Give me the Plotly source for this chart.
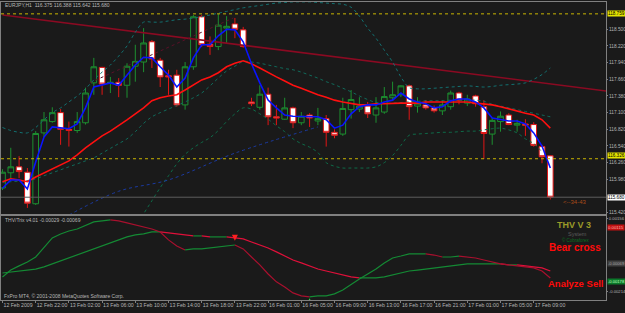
import plotly.graph_objects as go

# ---------------- data ----------------
tick_idx = [0, 4, 8, 12, 16, 20, 24, 28, 32, 36, 40, 44, 48, 52, 56, 60, 64]
tick_text = ["12 Feb 2009", "12 Feb 22:00", "13 Feb 02:00", "13 Feb 06:00", "13 Feb 10:00",
             "13 Feb 14:00", "13 Feb 18:00", "13 Feb 22:00", "16 Feb 01:00", "16 Feb 05:00",
             "16 Feb 09:00", "16 Feb 13:00", "16 Feb 17:00", "16 Feb 21:00", "17 Feb 01:00",
             "17 Feb 05:00", "17 Feb 09:00"]

opens = [115.835, 116.09, 116.19, 116.10, 115.57, 116.76, 116.95, 117.10, 116.82, 116.80,
         116.93, 117.60, 117.86, 117.59, 117.61, 117.56, 117.88, 117.95, 118.29, 117.98,
         117.72, 117.73, 117.23, 117.87, 118.71, 118.25, 118.21, 118.52, 118.59, 118.49,
         117.28, 117.19, 117.41, 117.03, 116.99, 117.18, 116.93, 117.06, 116.96, 117.00,
         116.77, 116.74, 117.15, 117.16, 117.21, 117.06, 117.11, 117.35, 117.40, 117.55,
         117.21, 117.23, 117.18, 117.13, 117.20, 117.43, 117.26, 117.38, 117.20, 116.74,
         116.95, 117.06, 116.89, 116.91, 116.90, 116.53, 116.375]
highs = [116.15, 116.51, 116.37, 116.17, 116.79, 117.11, 117.19, 117.16, 116.95, 117.11,
         117.52, 118.02, 117.87, 117.70, 117.68, 117.93, 118.24, 118.52, 118.32, 118.02,
         117.82, 117.82, 117.95, 118.74, 118.74, 118.38, 118.759, 118.72, 118.69, 118.54,
         117.35, 117.56, 117.52, 117.23, 117.35, 117.20, 117.11, 117.09, 117.18, 117.06,
         116.82, 117.35, 117.48, 117.36, 117.28, 117.36, 117.53, 117.62, 117.56, 117.57,
         117.36, 117.31, 117.22, 117.31, 117.47, 117.45, 117.40, 117.40, 117.31, 117.01,
         117.12, 117.09, 116.98, 116.99, 116.94, 116.56, 116.388]
lows = [115.80, 115.99, 116.00, 115.50, 115.55, 116.69, 116.93, 116.56, 116.53, 116.76,
        116.90, 117.40, 117.40, 117.43, 117.36, 117.35, 117.62, 117.78, 117.85, 117.53,
        117.40, 117.20, 117.15, 117.82, 118.20, 118.07, 118.15, 118.27, 118.35, 118.19,
        117.21, 117.15, 116.89, 116.89, 116.98, 116.84, 116.89, 116.86, 116.89, 116.53,
        116.67, 116.71, 117.00, 117.11, 117.01, 116.93, 117.08, 117.30, 117.36, 116.98,
        117.10, 117.15, 117.10, 117.06, 117.15, 117.24, 117.21, 117.20, 116.32, 116.56,
        116.78, 116.89, 116.78, 116.71, 116.53, 116.25, 115.642]
closes = [116.10, 116.19, 116.11, 115.58, 116.75, 116.98, 117.10, 116.82, 116.80, 116.95,
          117.43, 117.87, 117.58, 117.61, 117.56, 117.88, 117.96, 118.27, 118.00, 117.70,
          117.70, 117.23, 117.87, 118.71, 118.24, 118.21, 118.57, 118.55, 118.50, 118.21,
          117.25, 117.41, 117.03, 117.01, 117.18, 116.93, 117.04, 117.01, 117.00, 116.77,
          116.72, 117.17, 117.32, 117.21, 117.08, 117.18, 117.37, 117.40, 117.55, 117.20,
          117.26, 117.18, 117.13, 117.23, 117.43, 117.31, 117.33, 117.25, 116.75, 116.97,
          117.04, 116.90, 116.92, 116.89, 116.55, 116.36, 115.680]

ma_fast = [115.83, 115.97, 115.97, 115.82, 116.27, 116.69, 116.86, 116.84, 116.83, 116.91,
           117.18, 117.53, 117.56, 117.60, 117.56, 117.73, 117.90, 118.03, 118.02, 117.87,
           117.73, 117.53, 117.68, 118.02, 118.24, 118.24, 118.39, 118.50, 118.49, 118.29,
           117.92, 117.60, 117.31, 117.18, 117.06, 117.04, 117.04, 117.03, 117.03, 116.98,
           116.84, 116.89, 117.08, 117.20, 117.23, 117.23, 117.28, 117.31, 117.43, 117.33,
           117.28, 117.25, 117.18, 117.20, 117.30, 117.33, 117.33, 117.28, 117.18, 117.01,
           116.98, 116.96, 116.96, 116.91, 116.76, 116.54, 116.17]
ma_slow = [115.94, 115.99, 115.97, 115.94, 116.02, 116.09, 116.15, 116.22, 116.29, 116.39,
           116.51, 116.61, 116.71, 116.79, 116.88, 116.98, 117.08, 117.18, 117.30, 117.35,
           117.38, 117.40, 117.48, 117.56, 117.65, 117.70, 117.77, 117.87, 117.93, 117.97,
           117.92, 117.85, 117.77, 117.70, 117.63, 117.56, 117.51, 117.45, 117.40, 117.36,
           117.31, 117.28, 117.25, 117.23, 117.23, 117.25, 117.25, 117.26, 117.26, 117.26,
           117.26, 117.28, 117.28, 117.28, 117.28, 117.28, 117.28, 117.26, 117.25, 117.23,
           117.20, 117.16, 117.13, 117.09, 117.06, 116.98, 116.84]
band_upper = [116.85, 116.80, 116.77, 116.76, 116.85, 116.98, 117.10, 117.18, 117.28, 117.38,
              117.50, 117.65, 117.78, 117.90, 118.05, 118.22, 118.45, 118.62, 118.62, 118.62,
              118.64, 118.66, 118.67, 118.69, 118.71, 118.74, 118.77, 118.80, 118.83, 118.86,
              118.88, 118.90, 118.92, 118.94, 118.95, 118.96, 118.96, 118.96, 118.95, 118.94,
              118.93, 118.92, 118.87, 118.72, 118.52, 118.35, 118.15, 117.95, 117.70, 117.52,
              117.50, 117.50, 117.51, 117.52, 117.53, 117.54, 117.55, 117.54, 117.53, 117.54,
              117.56, 117.57, 117.58, 117.60, 117.66, 117.74, 117.85]
band_inner = [115.93, 115.94, 115.95, 115.96, 115.99, 116.04, 116.09, 116.14, 116.19, 116.24,
              116.29, 116.34, 116.42, 116.50, 116.58, 116.66, 116.78, 116.92, 117.03, 117.10,
              117.16, 117.22, 117.28, 117.35, 117.43, 117.55, 117.68, 117.80, 117.88, 117.96,
              117.95, 117.93, 117.90, 117.87, 117.84, 117.82, 117.78, 117.73, 117.68, 117.62,
              117.57, 117.51, 117.45, 117.38, 117.32, 117.27, 117.26, 117.26, 117.27, 117.28,
              117.29, 117.30, 117.30, 117.30, 117.31, 117.31, 117.31, 117.31, 117.29, 117.24,
              117.21, 117.18, 117.15, 117.12, 117.09, 117.06, 117.03]
band_lower = [None] * 15 + [
              114.90, 115.15, 115.40, 115.62, 115.84,
              116.04, 116.24, 116.40, 116.51, 116.60, 116.68, 116.80, 116.95, 117.08, 117.18,
              117.16, 117.08, 116.99, 116.88, 116.78, 116.66, 116.58, 116.52, 116.43, 116.26,
              116.20, 116.17, 116.17, 116.17, 116.17, 116.19, 116.26, 116.38, 116.55, 116.72,
              116.74, 116.75, 116.76, 116.77, 116.77, 116.78, 116.79, 116.79, 116.81, 116.83,
              116.84, 116.81, 116.76, 116.66, 116.58, 116.44, None]
slow_dot_idx = [8, 14, 20, 28, 38]
slow_dot_val = [115.38, 115.78, 115.97, 116.42, 116.86]
trend_idx = [0, 73]
trend_val = [118.74, 117.46]
trend2_idx = [10.5, 27.8]
trend2_val = [117.60, 118.69]
high_level = 118.759
pivot_level = 116.326
last_price = 115.680
price_ticks = [115.420, 115.980, 116.260, 116.540, 116.820, 117.100, 117.380,
               117.660, 117.940, 118.220, 118.500]

trix_fast = [-0.00138, -0.00103, -0.00082, -0.00062, -0.00037, 0.00009, 0.00060, 0.00080, 0.00095, 0.00105,
             0.00121, 0.00141, 0.00146, 0.00151, 0.00146, 0.00136, 0.00126, 0.00115, 0.00105, 0.00090,
             0.00050, 0.00019, -0.00001, 0.00004, 0.00004, 0.00009, 0.00014, 0.00019, 0.00024, 0.00004,
             -0.00037, -0.00077, -0.00123, -0.00163, -0.00189, -0.00219, -0.00234, -0.00239, -0.00234, -0.00234,
             -0.00224, -0.00204, -0.00174, -0.00148, -0.00123, -0.00098, -0.00067, -0.00042, -0.00032, -0.00021,
             -0.00021, -0.00021, -0.00027, -0.00037, -0.00037, -0.00032, -0.00037, -0.00042, -0.00052, -0.00062,
             -0.00072, -0.00077, -0.00082, -0.00087, -0.00092, -0.00108, -0.00143]
trix_slow = [-0.00118, -0.00113, -0.00108, -0.00103, -0.00098, -0.00087, -0.00072, -0.00057, -0.00042, -0.00027,
             -0.00011, 0.00004, 0.00019, 0.00034, 0.00050, 0.00065, 0.00075, 0.00080, 0.00090, 0.00090,
             0.00085, 0.00080, 0.00075, 0.00070, 0.00070, 0.00065, 0.00065, 0.00065, 0.00060, 0.00055,
             0.00039, 0.00024, 0.00009, -0.00011, -0.00032, -0.00052, -0.00067, -0.00082, -0.00098, -0.00108,
             -0.00118, -0.00128, -0.00138, -0.00143, -0.00143, -0.00143, -0.00138, -0.00128, -0.00118, -0.00108,
             -0.00103, -0.00098, -0.00092, -0.00087, -0.00082, -0.00077, -0.00072, -0.00072, -0.00072, -0.00072,
             -0.00072, -0.00077, -0.00077, -0.00082, -0.00087, -0.00092, -0.00108]
arrow_down_idx = [28]
arrow_down_val = [0.00045]
arrow_up_idx = [37]
arrow_up_val = [-0.00246]
trix_ticks = [0.00156, -0.00214]

# ---------------- figure ----------------
W, H = 625, 313
ML, MR, MT, MB = 1, 19, 2, 13
BG = "#1a1a1a"
FONT = "Liberation Sans, Arial, sans-serif"
SMALL = "Liberation Sans Narrow, Arial Narrow, Liberation Sans, sans-serif"
xs = list(range(len(opens)))
XR = [-0.18, 72.71]


def px(xp):
    return (xp - ML) / (W - ML - MR)


def py(yp):
    return (H - MB - yp) / (H - MT - MB)


fig = go.Figure()

# trend lines and bands (behind candles)
fig.add_trace(go.Scatter(x=trend_idx, y=trend_val, mode="lines",
                         line=dict(color="#8a0a22", width=1.5), xaxis="x", yaxis="y"))
fig.add_trace(go.Scatter(x=trend2_idx, y=trend2_val, mode="lines",
                         line=dict(color="#5a1028", width=1, dash="dot"), xaxis="x", yaxis="y"))
fig.add_trace(go.Scatter(x=xs, y=band_upper, mode="lines", line_shape="spline",
                         line=dict(color="#127070", width=1, dash="dot"), xaxis="x", yaxis="y"))
fig.add_trace(go.Scatter(x=xs, y=band_inner, mode="lines", line_shape="spline",
                         line=dict(color="#106a5a", width=1, dash="dot"), xaxis="x", yaxis="y"))
fig.add_trace(go.Scatter(x=xs, y=band_lower, mode="lines", line_shape="spline",
                         line=dict(color="#0e6a48", width=1, dash="dot"), xaxis="x", yaxis="y"))
fig.add_trace(go.Scatter(x=slow_dot_idx, y=slow_dot_val, mode="lines", line_shape="spline",
                         line=dict(color="#1a3aa0", width=1, dash="dot"), xaxis="x", yaxis="y"))

fig.add_trace(go.Candlestick(
    x=xs, open=opens, high=highs, low=lows, close=closes,
    increasing=dict(line=dict(color="#1d8f30", width=1), fillcolor=BG),
    decreasing=dict(line=dict(color="#e01515", width=1), fillcolor="#ffffff"),
    xaxis="x", yaxis="y", hoverinfo="skip"))

fig.add_trace(go.Scatter(x=xs, y=ma_slow, mode="lines",
                         line=dict(color="#ff1010", width=1.6), xaxis="x", yaxis="y"))
fig.add_trace(go.Scatter(x=xs, y=ma_fast, mode="lines",
                         line=dict(color="#0a14ff", width=1.6), xaxis="x", yaxis="y"))


def add_colored(vals, up_col, down_col, width):
    start = 0
    n = len(vals)

    def sign(i):
        return 1 if vals[i + 1] >= vals[i] else -1
    cur = sign(0)
    for i in range(1, n - 1):
        s = sign(i)
        if s != cur:
            fig.add_trace(go.Scatter(x=xs[start:i + 1], y=vals[start:i + 1], mode="lines",
                                     line=dict(color=up_col if cur > 0 else down_col, width=width),
                                     xaxis="x2", yaxis="y2"))
            start = i
            cur = s
    fig.add_trace(go.Scatter(x=xs[start:], y=vals[start:], mode="lines",
                             line=dict(color=up_col if cur > 0 else down_col, width=width),
                             xaxis="x2", yaxis="y2"))


add_colored(trix_slow, "#148a34", "#e0103a", 1.2)
add_colored(trix_fast, "#148a34", "#a8102e", 1.2)

fig.add_trace(go.Scatter(x=arrow_down_idx, y=arrow_down_val, mode="markers",
                         marker=dict(symbol="arrow-down", size=6, color="#ff2020"),
                         xaxis="x2", yaxis="y2"))
fig.add_trace(go.Scatter(x=arrow_up_idx, y=arrow_up_val, mode="markers",
                         marker=dict(symbol="arrow-up", size=6, color="#20e040"),
                         xaxis="x2", yaxis="y2"))

# horizontal levels
fig.add_shape(type="line", xref="x domain", x0=0, x1=1, yref="y", y0=high_level, y1=high_level,
              line=dict(color="#c8b400", width=1, dash="dot"))
fig.add_shape(type="line", xref="x domain", x0=0, x1=1, yref="y", y0=pivot_level, y1=pivot_level,
              line=dict(color="#c8b400", width=1, dash="dot"))
fig.add_shape(type="line", xref="x domain", x0=0, x1=1, yref="y", y0=last_price, y1=last_price,
              line=dict(color="#5e5e5e", width=1))

# axes
axis_common = dict(showgrid=False, zeroline=False, showline=True, mirror=True,
                   linecolor="#808080", linewidth=1, fixedrange=True, automargin=False)
main_bottom = py(214)
ind_top = py(216)
fig.update_layout(
    width=W, height=H,
    margin=dict(l=ML, r=MR, t=MT, b=MB, pad=0, autoexpand=False),
    paper_bgcolor=BG, plot_bgcolor=BG,
    showlegend=False, hovermode=False,
    boxgap=0.2, boxgroupgap=0.15,
    font=dict(family=FONT, size=5, color="#b4b4b4"),
    xaxis=dict(anchor="y", domain=[0, 1], range=XR, showticklabels=False,
               ticks="", rangeslider=dict(visible=False), **axis_common),
    yaxis=dict(anchor="x", domain=[main_bottom, 1], range=[115.398, 118.958], side="right",
               tickvals=price_ticks, ticktext=["%.3f" % v for v in price_ticks],
               ticks="outside", ticklen=1, tickcolor="#808080", tickangle=0,
               tickfont=dict(size=4.8, color="#b4b4b4", family=SMALL), **axis_common),
    xaxis2=dict(anchor="y2", domain=[0, 1], matches="x", range=XR,
                tickvals=tick_idx, ticktext=tick_text, ticklabelposition="outside right",
                ticks="outside", ticklen=2, tickcolor="#808080", tickangle=0,
                tickfont=dict(size=5.2, color="#b4b4b4", family=SMALL),
                rangeslider=dict(visible=False), **axis_common),
    yaxis2=dict(anchor="x2", domain=[0, ind_top], range=[-0.00255, 0.00171], side="right",
                tickvals=trix_ticks, ticktext=["0.00156", "-0.00214"],
                ticks="outside", ticklen=1, tickcolor="#808080", tickangle=0,
                tickfont=dict(size=4.2, color="#b4b4b4", family=SMALL), **axis_common),
)

ann = []


def label_box(y, text, bg, fg, yref, anchor="middle", size=4.6):
    ann.append(dict(x=1, xref="paper", xanchor="left", xshift=1, y=y, yref=yref,
                    yanchor=anchor, text=text, showarrow=False, bgcolor=bg,
                    font=dict(size=size, color=fg, family=SMALL), borderpad=0))


label_box(high_level, "118.759", "#e6e600", "#000000", "y")
label_box(pivot_level, "116.326", "#e6e600", "#000000", "y", "bottom")
label_box(last_price, "115.680", "#ffffff", "#000000", "y")
label_box(0.00115, "0.00115", "#c01010", "#ffb0b0", "y2", size=4.3)
label_box(-0.00069, "-0.00069", "#404040", "#a0a0a0", "y2", size=4.1)
label_box(-0.00178, "-0.00178", "#0a7a2a", "#c0ffc0", "y2", "bottom", size=4.1)


def text(xp, yp, s, size, color, anchor="left", bold=False, family=FONT):
    ann.append(dict(x=px(xp), y=py(yp), xref="paper", yref="paper", xanchor=anchor,
                    yanchor="middle", text=("<b>%s</b>" % s) if bold else s, showarrow=False,
                    font=dict(size=size, color=color, family=family)))


text(3, 5.5, "EURJPY,H1  116.375 116.388 115.642 115.680", 5, "#b8b8b8")
text(3, 220, "THV/Trix v4.01 -0.00029 -0.00069", 5, "#b8b8b8")
text(2, 296, "FxPro MT4, © 2001-2008 MetaQuotes Software Corp.", 5, "#b8b8b8")
text(561, 202, "&lt;--34-43", 6, "#a84a18")
text(574, 225, "THV V 3", 9, "#9a9a28", "center", True)
text(577, 234, "System", 5.5, "#5a5a5a", "center")
text(576, 240, "© Cobraforex", 4.5, "#0a7020", "center")
text(575, 247, "Bear cross", 10, "#ff0a0a", "center", True)
text(575, 283, "Analyze Sell", 9.5, "#ff0a0a", "center", True)

fig.update_layout(annotations=ann)
fig.write_html("out.html")
